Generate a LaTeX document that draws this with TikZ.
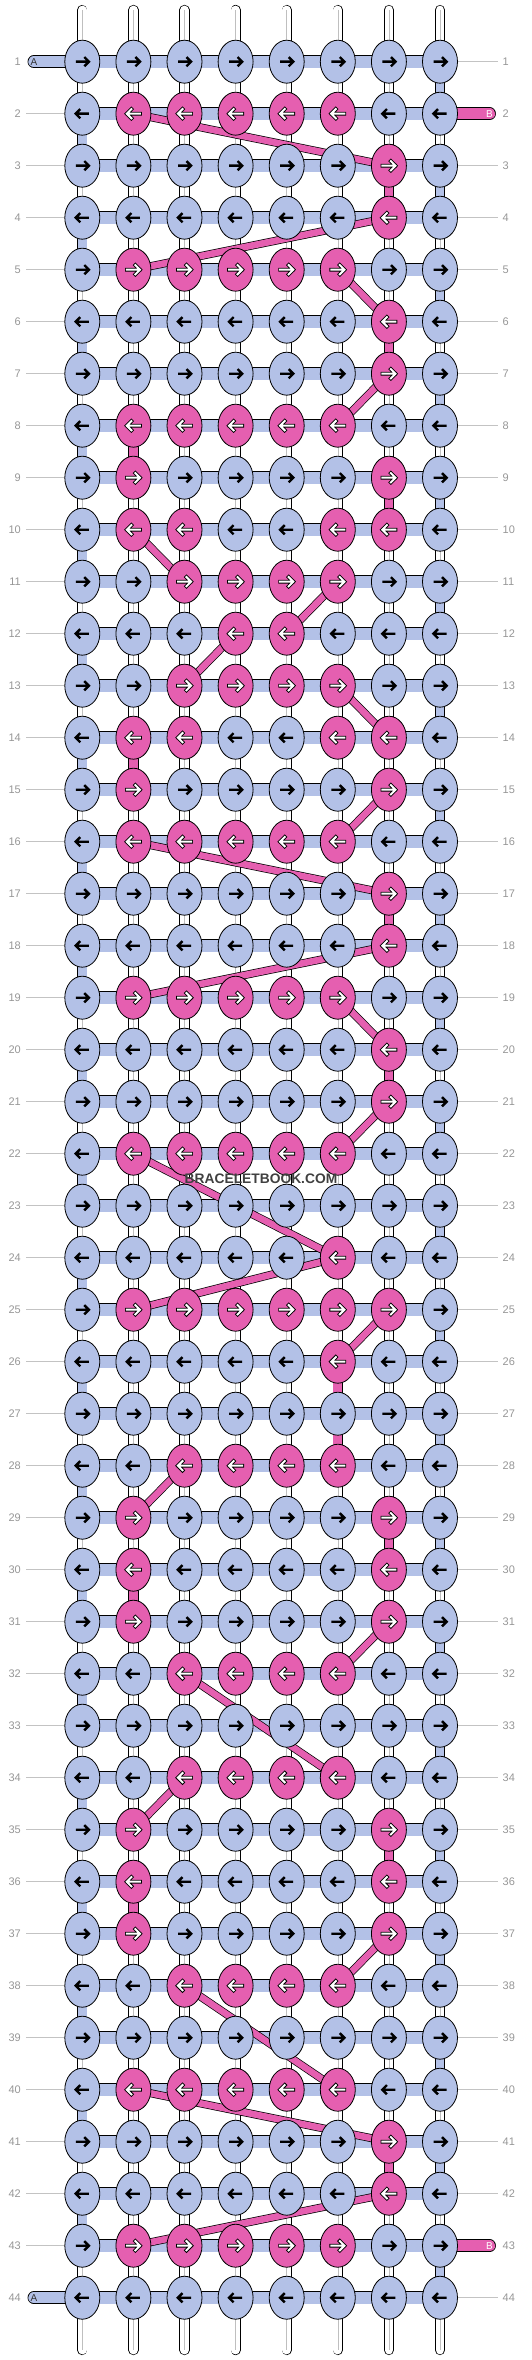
\documentclass[tikz,border=0pt]{standalone}
\usepackage{fontspec}
\setmainfont{Liberation Sans}
\usetikzlibrary{shapes.geometric}
\pgfdeclarelayer{bg}
\pgfsetlayers{bg,main}
\definecolor{lav}{RGB}{179,193,231}
\definecolor{pnk}{RGB}{229,95,176}
\definecolor{numgray}{RGB}{150,150,150}
\definecolor{rulegray}{RGB}{195,195,195}

\begin{document}
\begin{tikzpicture}[x=1pt,y=-1pt]
        % Setup the styles for the knots and the strings
        \tikzset{knot/.style={ellipse,
                              draw=black,
                              line width=0.8pt,
                              inner sep=0pt,
                              minimum width=35pt,
                              minimum height=43pt,
                              fill=lav},
                 pinkknot/.style={knot, fill=pnk},
                 knotarrow/.pic={\draw[line width=2.4pt]
                                  (-6.5pt,0pt) -- (6pt,0pt)
                                  (2pt,-4.6pt) -- (6.6pt,0pt) -- (2pt,4.6pt);},
                 pinkarrow/.pic={\draw[line width=3.8pt, line cap=rect]
                                  (-6.5pt,0pt) -- (6pt,0pt)
                                  (2pt,-4.6pt) -- (6.6pt,0pt) -- (2pt,4.6pt);
                                 \draw[white, line width=2pt, line cap=rect]
                                  (-6.5pt,0pt) -- (6pt,0pt)
                                  (2pt,-4.6pt) -- (6.6pt,0pt) -- (2pt,4.6pt);},
                 strand/.style={double=white, double distance=8.8pt, line width=0.7pt, line cap=round},
                 core/.style={draw=black!25, line width=0.5pt},
                 turn/.style={double=lav, double distance=8.8pt, line width=0.7pt},
                 drop/.style={double=pnk, double distance=8.8pt, line width=0.7pt},
                 bar/.style={double=lav, double distance=12pt, line width=0.7pt},
                 tailA/.style={double=lav, double distance=11.5pt, line width=0.7pt, line cap=round},
                 tailB/.style={double=pnk, double distance=11.5pt, line width=0.7pt, line cap=round},
                 bpath/.style={double=pnk, double distance=6.6pt, line width=0.7pt},
                 tag/.style={inner sep=0pt, font=\fontsize{10}{11}\selectfont},
                 rownum/.style={inner sep=0pt, text=numgray, font=\fontsize{11}{13}\selectfont},
                 guide/.style={draw=rulegray, line width=0.9pt},
                 watermark/.style={inner sep=0pt, text=black!75, font=\bfseries\fontsize{13.8}{15}\selectfont}}

        \useasboundingbox (0,0) rectangle (532,2360);

        % Draw the knots, pink where string B ties
        \foreach \r/\pk in {1/0, 2/{2,3,4,5,6}, 3/7, 4/7, 5/{2,3,4,5,6}, 6/7, 7/7,
                            8/{2,3,4,5,6}, 9/{2,7}, 10/{2,3,6,7}, 11/{3,4,5,6}, 12/{4,5},
                            13/{3,4,5,6}, 14/{2,3,6,7}, 15/{2,7}, 16/{2,3,4,5,6}, 17/7, 18/7,
                            19/{2,3,4,5,6}, 20/7, 21/7, 22/{2,3,4,5,6}, 23/0, 24/6,
                            25/{2,3,4,5,6,7}, 26/6, 27/0, 28/{3,4,5,6}, 29/{2,7}, 30/{2,7},
                            31/{2,7}, 32/{3,4,5,6}, 33/0, 34/{3,4,5,6}, 35/{2,7}, 36/{2,7},
                            37/{2,7}, 38/{3,4,5,6}, 39/0, 40/{2,3,4,5,6}, 41/7, 42/7,
                            43/{2,3,4,5,6}, 44/0}{
            \pgfmathtruncatemacro\kdir{2*mod(\r,2)-1}
            \foreach \c in {1,...,8}{
                \gdef\kind{0}
                \foreach \p in \pk {\ifnum\p=\c\relax \gdef\kind{1}\fi}
                \ifnum\kind=1\relax
                    \node[pinkknot] (k-\r-\c) at ({82.3+51.1*(\c-1)}, {61.7+52*(\r-1)}) {};
                    \pic[xscale=\kdir] at (k-\r-\c) {pinkarrow};
                \else
                    \node[knot] (k-\r-\c) at ({82.3+51.1*(\c-1)}, {61.7+52*(\r-1)}) {};
                    \pic[xscale=\kdir] at (k-\r-\c) {knotarrow};
                \fi
            }
        }

        % Ends of the strings A and B
        \node[tag, text=black!80] (a-1) at (34, 61.7) {A};
        \node[tag, text=black!80] (a-44) at (34, 2297.7) {A};
        \node[tag, text=white] (b-2) at (489.5, 113.7) {B};
        \node[tag, text=white] (b-43) at (489.5, 2245.7) {B};

        \begin{pgfonlayer}{bg}
            % Base strings
            \foreach \c in {1,...,8}{
                \coordinate (top-\c) at ({82.3+51.1*(\c-1)}, 10);
                \coordinate (bot-\c) at ({82.3+51.1*(\c-1)}, 2350);
                \draw[strand] (top-\c) -- (bot-\c);
                \draw[core] (top-\c) -- (bot-\c);
            }
            % String A turning at the edges
            \foreach \r in {1,3,...,43}{
                \pgfmathtruncatemacro\rn{\r+1}
                \draw[turn] (k-\r-8.center) -- (k-\rn-8.center);
            }
            \foreach \r in {2,4,...,42}{
                \pgfmathtruncatemacro\rn{\r+1}
                \draw[turn] (k-\r-1.center) -- (k-\rn-1.center);
            }
            % String B going straight down
            \foreach \c/\r/\rn in {7/3/4, 7/6/7, 2/8/9, 7/9/10, 2/14/15, 7/17/18, 7/20/21,
                                   6/26/27, 6/27/28, 7/29/30, 2/30/31, 7/35/36, 2/36/37, 7/41/42}
                \draw[drop] (k-\r-\c.center) -- (k-\rn-\c.center);
            % Rows
            \foreach \r in {1,...,44}
                \foreach \c/\cn in {1/2,2/3,3/4,4/5,5/6,6/7,7/8}
                    \draw[bar] (k-\r-\c.center) -- (k-\r-\cn.center);
            \draw[tailA] (a-1.center) -- (k-1-1.center);
            \draw[tailA] (a-44.center) -- (k-44-1.center);
            \draw[tailB] (k-2-8.center) -- (b-2.center);
            \draw[tailB] (k-43-8.center) -- (b-43.center);
            % String B jumping between rows
            \foreach \a/\b in {2-2/3-7, 4-7/5-2, 5-6/6-7, 7-7/8-6, 10-2/11-3, 11-6/12-5,
                               12-4/13-3, 13-6/14-7, 15-7/16-6, 16-2/17-7, 18-7/19-2, 19-6/20-7,
                               21-7/22-6, 22-2/24-6, 24-6/25-2, 25-7/26-6, 28-3/29-2, 31-7/32-6,
                               32-3/34-6, 34-3/35-2, 37-7/38-6, 38-3/40-6, 40-2/41-7, 42-7/43-2}
                \draw[bpath] (k-\a.center) -- (k-\b.center);
        \end{pgfonlayer}

        % Row numbers
        \foreach \r in {1,...,44}{
            \node[rownum, anchor=east] (nl-\r) at (21, {61.7+52*(\r-1)}) {\r};
            \node[rownum, anchor=west] (nr-\r) at (502.5, {61.7+52*(\r-1)}) {\r};
            \ifnum\r>1\relax\ifnum\r<44\relax
                \draw[guide] ([xshift=5pt]nl-\r.east) -- (k-\r-1.west);
            \fi\fi
            \ifnum\r=2\relax\else\ifnum\r=43\relax\else
                \draw[guide] (k-\r-8.east) -- ([xshift=-5pt]nr-\r.west);
            \fi\fi
        }

        \node[watermark] (wm) at (261, 1179) {BRACELETBOOK.COM};
\end{tikzpicture}
\end{document}
